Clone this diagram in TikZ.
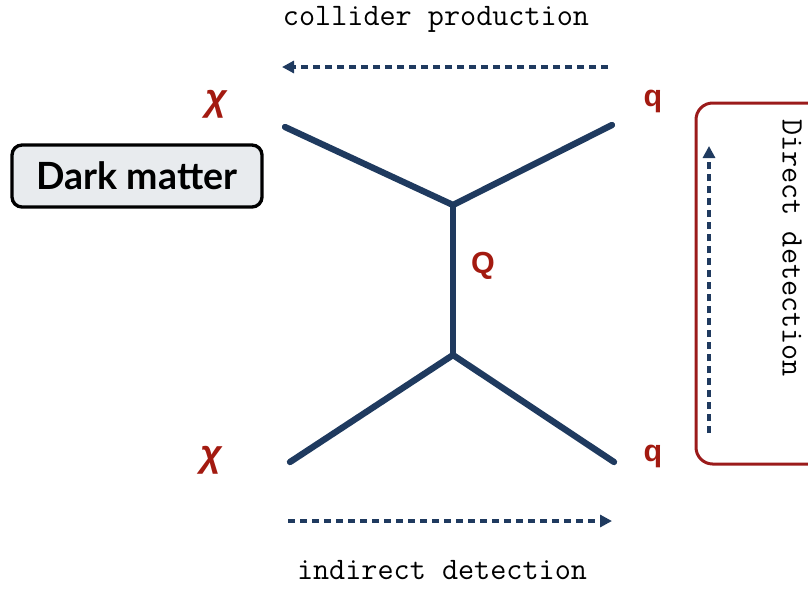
\documentclass[tikz,border=0pt]{standalone}
\usepackage{fontspec}
\setmainfont{Lato}
\newfontfamily\partfont{Liberation Sans}
\usepackage{xcolor}
\usetikzlibrary{arrows.meta,positioning}
\definecolor{navy}{HTML}{1F3A5F}
\definecolor{darkred}{HTML}{A31A10}
\definecolor{boxred}{HTML}{9B1B1B}
\definecolor{boxgray}{HTML}{E8EBEE}

\begin{document}
\begin{tikzpicture}[x=0.3mm, y=-0.3mm,
  prop/.style={draw=navy, line width=1.9mm, line cap=round},
  flow/.style={draw=navy, line width=1.1mm, dash pattern=on 2.1mm off 1.5mm,
               -{Triangle[length=3.6mm, width=3.6mm]}},
  part/.style={text=darkred, font=\partfont\bfseries\fontsize{26}{26}\selectfont, inner sep=0pt},
  proc/.style={font=\ttfamily\fontsize{26.7}{26.7}\selectfont, inner sep=0pt}
]
\useasboundingbox (0,0) rectangle (808,588);
% vertices and external legs
\coordinate (vtop) at (453,205);
\coordinate (vbot) at (453,355);
\coordinate (chiA) at (285,127);
\coordinate (qA) at (612,125);
\coordinate (chiB) at (290,462);
\coordinate (qB) at (614,462);
\draw[prop] (chiA) -- (vtop) -- (qA);
\draw[prop] (vtop) -- (vbot);
\draw[prop] (chiB) -- (vbot) -- (qB);
% particle labels
\node[part, font=\partfont\bfseries\itshape\fontsize{32}{32}\selectfont] (lchiA) at (216,104) {χ};
\node[part, font=\partfont\bfseries\itshape\fontsize{32}{32}\selectfont] (lchiB) at (211,460) {χ};
\node[part] (lqA) at (653,101) {q};
\node[part] (lqB) at (653,456) {q};
\node[part] (lQ) at (483,266) {Q};
% dark matter box
\node[draw, line width=1mm, rounded corners=3mm, fill=boxgray,
      minimum width=250*0.3mm, minimum height=62*0.3mm,
      font=\bfseries\fontsize{32}{32}\selectfont] (dm) at (137,176) {Dark matter};
% direct detection box
\draw[boxred, line width=0.9mm, rounded corners=5mm] (696,103) rectangle (830,464);
\node[proc, rotate=-90] (ldir) at (792,248) {Direct detection};
\coordinate (dirS) at (709,433);
\coordinate (dirE) at (709,146);
\draw[flow] (dirS) -- (dirE);
% collider production
\node[proc, anchor=base] (lcol) at (436,25) {collider production};
\coordinate (colS) at (608,67);
\coordinate (colE) at (282,67);
\draw[flow] (colS) -- (colE);
% indirect detection
\node[proc, anchor=base] (lind) at (442,579) {indirect detection};
\coordinate (indS) at (288,521);
\coordinate (indE) at (612,521);
\draw[flow] (indS) -- (indE);
\end{tikzpicture}
\end{document}
